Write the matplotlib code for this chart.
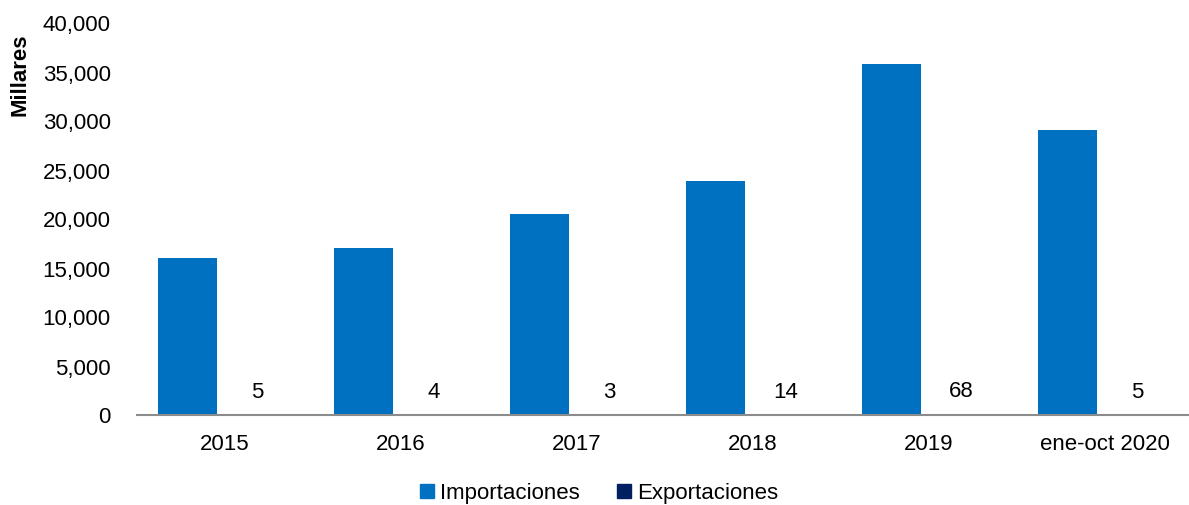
import matplotlib
matplotlib.use("Agg")
import matplotlib.pyplot as plt
import numpy as np
from matplotlib.ticker import FuncFormatter
from matplotlib.lines import Line2D

categories = ["2015", "2016", "2017", "2018", "2019", "ene-oct 2020"]
importaciones = [16000, 17000, 20450, 23800, 35800, 29000]
exportaciones = [5, 4, 3, 14, 68, 5]
series_names = ["Importaciones", "Exportaciones"]
colors = ["#0070C0", "#002060"]

plt.rcParams['font.family'] = ['Liberation Sans', 'DejaVu Sans']

fig = plt.figure(figsize=(11.89, 5.06), dpi=100)
ax = fig.add_axes([137/1189, 90.5/506, 1 - 137/1189, (414-22)/506])

x = np.arange(len(categories))
w = 0.335
shift = 0.045
b1 = ax.bar(x - w/2 - shift, importaciones, width=w, color=colors[0])
b2 = ax.bar(x + w/2 - shift, exportaciones, width=w, color=colors[1])

for xi, v in zip(x + w/2 - shift, exportaciones):
    ax.annotate(f"{v:,}", (xi, v), xytext=(8, 9), textcoords="offset points",
                ha="center", va="bottom", fontsize=16, color="black")

ax.set_xlim(-0.5, 5.48)
ax.set_ylim(0, 40000)
ax.set_yticks(np.arange(0, 40001, 5000))
ax.yaxis.set_major_formatter(FuncFormatter(lambda v, p: f"{int(v):,}"))
ax.set_xticks(x)
ax.set_xticklabels(categories)
ax.tick_params(axis='y', length=0, pad=19, labelsize=16)
ax.tick_params(axis='x', length=0, pad=13, labelsize=16)
for s in ["top", "right", "left"]:
    ax.spines[s].set_visible(False)
ax.spines["bottom"].set_color("#8c8c8c")
ax.spines["bottom"].set_linewidth(1.5)

fig.text(20/1189, 1 - 75/506, "Millares", rotation=90, ha="center", va="center",
         fontsize=16, fontweight="bold")

handles = [Line2D([0], [0], marker='s', linestyle='none', markersize=9.5,
                  markerfacecolor=c, markeredgecolor=c) for c in colors]
fig.legend(handles, series_names, loc="center", bbox_to_anchor=(597/1189, 1 - 494/506),
           ncol=2, frameon=False, fontsize=16, handletextpad=0.1, columnspacing=1.5,
           handlelength=1.0)

fig.savefig("out.png", dpi=100)
